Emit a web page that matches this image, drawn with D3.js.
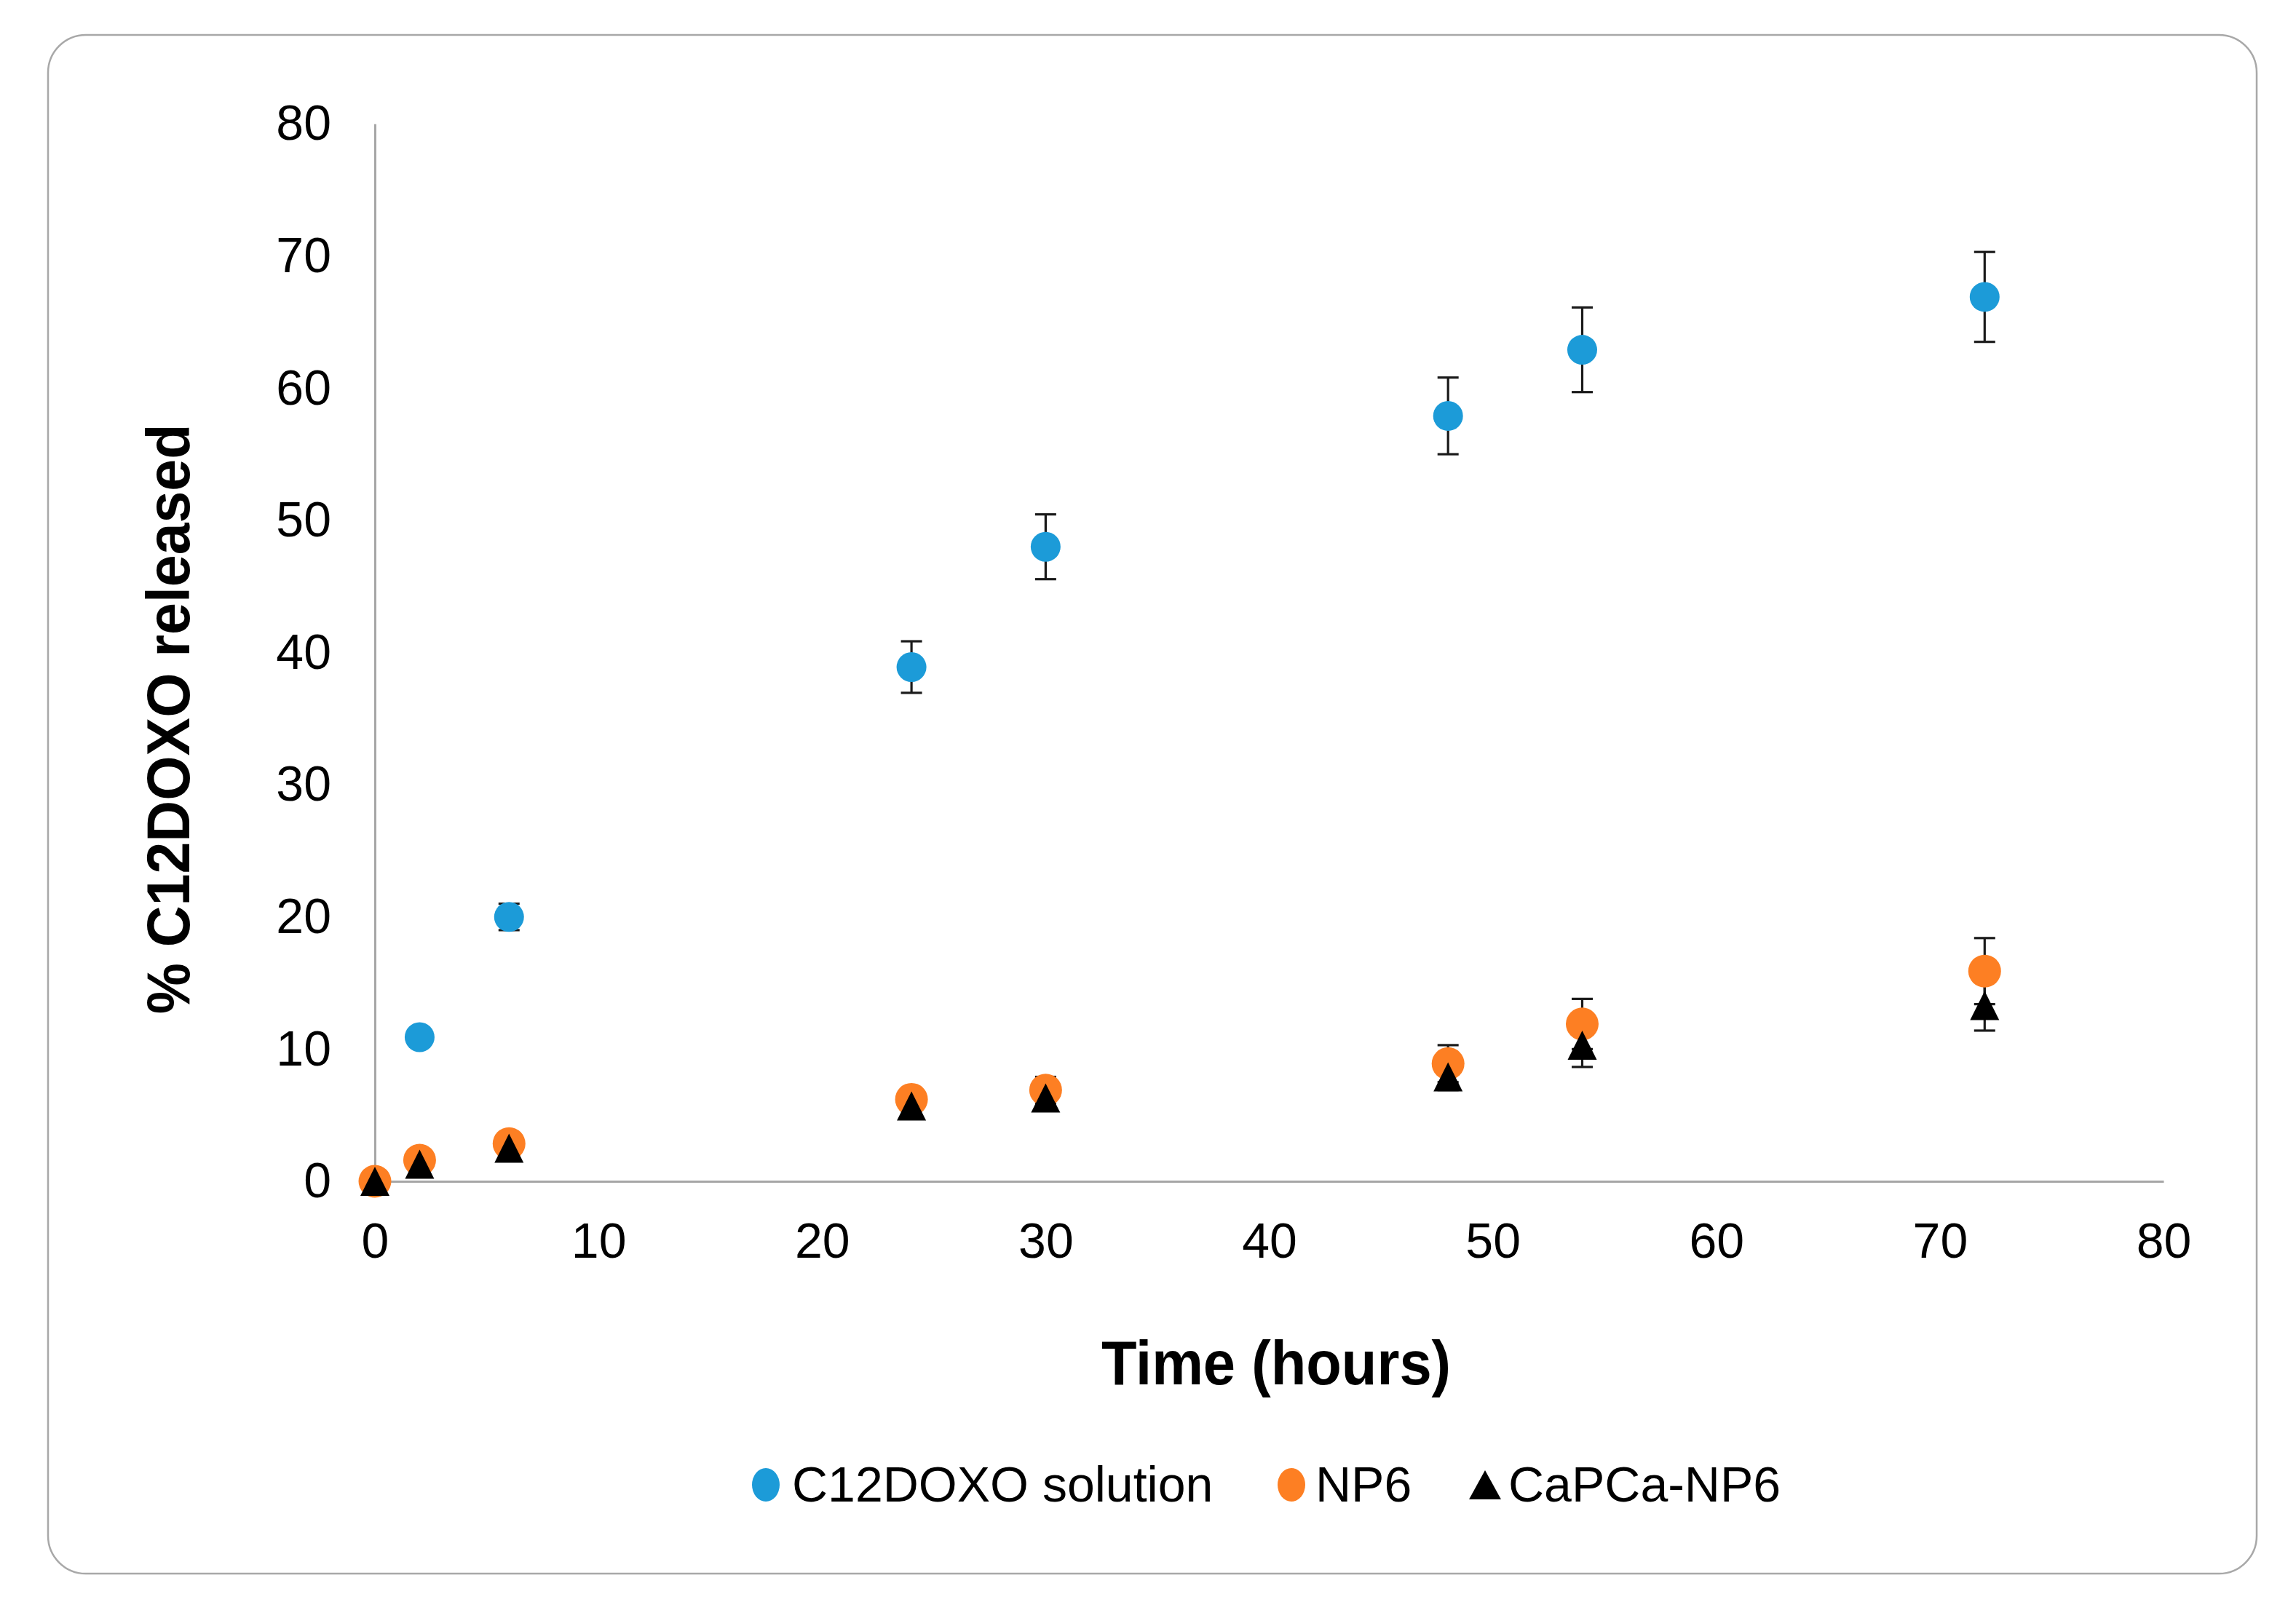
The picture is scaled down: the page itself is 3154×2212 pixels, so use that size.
<!DOCTYPE html>
<html>
<head>
<meta charset="utf-8">
<script src="https://cdn.jsdelivr.net/npm/d3@7"></script>
<style>
  html, body { margin: 0; padding: 0; background: #ffffff; }
  svg { display: block; }
  text { font-family: "Liberation Sans", Arial, sans-serif; fill: #000; }
</style>
</head>
<body>
<div id="chart"></div>
<script>
// ---- data ----
const times = [0, 2, 6, 24, 30, 48, 54, 72];
const seriesNames = ["C12DOXO solution", "NP6", "CaPCa-NP6"];
const solutionValues = [0, 10.9, 20.0, 38.9, 48.0, 57.9, 62.9, 66.9];
const solutionErrors = [0, 0.3, 1.0, 1.95, 2.45, 2.9, 3.2, 3.4];
const np6Values = [0, 1.6, 2.85, 6.2, 6.9, 8.9, 11.9, 15.9];
const np6Errors = [0, 0.2, 0.3, 0.5, 1.0, 1.4, 1.9, 2.5];
const capcaValues = [0, 1.3, 2.5, 5.7, 6.3, 7.9, 10.3, 13.3];
const capcaErrors = [0, 0.2, 0.3, 0.4, 0.6, 1.0, 1.65, 1.9];
const xTicks = [0, 10, 20, 30, 40, 50, 60, 70, 80];
const yTicks = [0, 10, 20, 30, 40, 50, 60, 70, 80];
const xTitle = "Time (hours)";
const yTitle = "% C12DOXO released";

const W = 3154, H = 2212;
const svg = d3.select("#chart").append("svg").attr("width", W).attr("height", H);

// frame
svg.append("rect")
  .attr("x", 66).attr("y", 48).attr("width", 3034).attr("height", 2114)
  .attr("rx", 52).attr("ry", 52)
  .attr("fill", "#fff").attr("stroke", "#a8a8a8").attr("stroke-width", 2.5);

const x = d3.scaleLinear().domain([0, 80]).range([515, 2972]);
const y = d3.scaleLinear().domain([0, 80]).range([1623, 170]);

const axisColor = "#a6a6a6";

// x axis
const gx = svg.append("g").attr("transform", `translate(0,${y(0)})`)
  .call(d3.axisBottom(x).tickValues(xTicks).tickSize(0).tickPadding(57).tickFormat(d3.format("d")));
gx.select(".domain").attr("stroke", axisColor).attr("stroke-width", 3);
gx.selectAll("text").attr("font-size", 68).attr("font-family", "Liberation Sans, Arial, sans-serif").attr("fill", "#000");

// y axis
const gy = svg.append("g").attr("transform", `translate(${x(0)},0)`)
  .call(d3.axisLeft(y).tickValues(yTicks).tickSize(0).tickPadding(60).tickFormat(d3.format("d")));
gy.select(".domain").attr("stroke", axisColor).attr("stroke-width", 3);
gy.selectAll("text").attr("font-size", 68).attr("font-family", "Liberation Sans, Arial, sans-serif").attr("fill", "#000");

// titles
svg.append("g").attr("transform", "translate(1753,1902)")
  .append("text").attr("transform", "scale(0.925,1)")
  .attr("text-anchor", "middle").attr("font-size", 86).attr("font-weight", "bold")
  .text(xTitle);
svg.append("g").attr("transform", "translate(260,988) rotate(-90)")
  .append("text").attr("transform", "scale(0.95,1)")
  .attr("text-anchor", "middle").attr("font-size", 83).attr("font-weight", "bold")
  .text(yTitle);

const series = [
  { name: seriesNames[0], values: solutionValues, errors: solutionErrors, color: "#1c9bd8", shape: "circle", r: 20.5 },
  { name: seriesNames[1], values: np6Values, errors: np6Errors, color: "#fd7f23", shape: "circle", r: 22.5 },
  { name: seriesNames[2], values: capcaValues, errors: capcaErrors, color: "#000000", shape: "triangle", r: 20 }
];

// error bars (drawn beneath all markers)
const capHalf = 14.5;
series.forEach(s => {
  const g = svg.append("g").attr("stroke", "#1a1a1a").attr("stroke-width", 3.2);
  times.forEach((t, i) => {
    const e = s.errors[i];
    if (!e) return;
    const cx = x(t), y1 = y(s.values[i] + e), y2 = y(s.values[i] - e);
    g.append("line").attr("x1", cx).attr("x2", cx).attr("y1", y1).attr("y2", y2);
    g.append("line").attr("x1", cx - capHalf).attr("x2", cx + capHalf).attr("y1", y1).attr("y2", y1);
    g.append("line").attr("x1", cx - capHalf).attr("x2", cx + capHalf).attr("y1", y2).attr("y2", y2);
  });
});

function triPath(cx, cy, w, h) {
  return `M${cx},${cy - h / 2}L${cx + w / 2},${cy + h / 2}L${cx - w / 2},${cy + h / 2}Z`;
}

// markers
series.forEach(s => {
  const g = svg.append("g");
  times.forEach((t, i) => {
    if (s.shape === "circle") {
      g.append("circle").attr("cx", x(t)).attr("cy", y(s.values[i])).attr("r", s.r).attr("fill", s.color);
    } else {
      g.append("path").attr("d", triPath(x(t), y(s.values[i]), 40, 40)).attr("fill", s.color);
    }
  });
});

// legend
const legendY = 2040;
const legendItems = [
  { mx: 1052, tx: 1088 },
  { mx: 1774, tx: 1807 },
  { mx: 2040, tx: 2072 }
];
series.forEach((s, i) => {
  const it = legendItems[i];
  if (s.shape === "circle") {
    svg.append("ellipse").attr("cx", it.mx).attr("cy", legendY).attr("rx", 19).attr("ry", 23).attr("fill", s.color);
  } else {
    svg.append("path").attr("d", triPath(it.mx, legendY, 44, 40)).attr("fill", s.color);
  }
  svg.append("text").attr("x", it.tx).attr("y", 2063).attr("font-size", 68).text(s.name);
});
</script>
</body>
</html>
